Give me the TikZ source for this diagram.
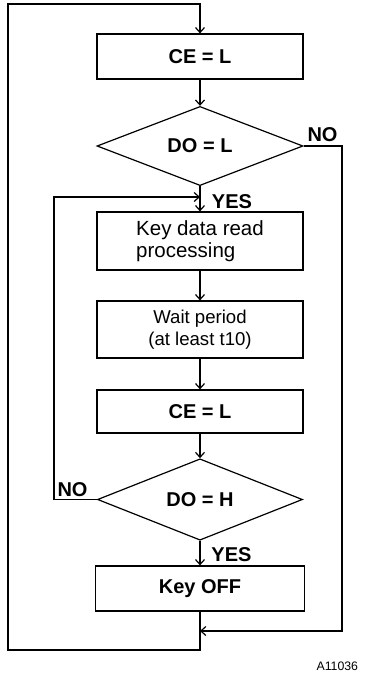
\documentclass[tikz,border=0pt]{standalone}
\usepackage{fontspec}
\setmainfont{Liberation Sans}
\usetikzlibrary{shapes.geometric,arrows.meta}
\begin{document}
\begin{tikzpicture}[x=1pt,y=-1pt,line width=1.2pt,
  box/.style={draw,rectangle,inner sep=0pt},
  dec/.style={draw,diamond,inner sep=0pt},
  lbl/.style={font=\bfseries\fontsize{20}{22}\selectfont},
  flow/.style={-{Straight Barb[length=5pt,width=9pt]}}]
\useasboundingbox (0,0) rectangle (365,683);
\node[box,minimum width=206pt,minimum height=45pt,lbl] (ce1) at (200,56.5) {CE = L};
\node[dec,minimum width=206pt,minimum height=70pt,lbl] (do1) at (200,146) {DO = L};
\node[box,minimum width=206pt,minimum height=58pt,align=left,font=\fontsize{20.5}{22}\selectfont] (key) at (200,241) {Key data read\\processing};
\node[box,minimum width=206pt,minimum height=57pt,align=center,font=\fontsize{18.6}{22.5}\selectfont] (wait) at (200,329.5) {Wait period\\(at least t10)};
\node[box,minimum width=206pt,minimum height=43pt,lbl] (ce2) at (200,411.5) {CE = L};
\node[dec,minimum width=205pt,minimum height=71pt,lbl] (do2) at (200,499.5) {DO = H};
\node[box,minimum width=209pt,minimum height=45pt,lbl] (off) at (200,588.5) {Key OFF};
\node[font=\fontsize{12.3}{14}\selectfont,anchor=east] (id) at (362,666) {A11036};
\node[lbl] (no1) at (322.5,135) {NO};
\node[lbl] (yes1) at (232,201.5) {YES};
\node[lbl] (no2) at (72.5,490) {NO};
\node[lbl] (yes2) at (231.5,555) {YES};
\coordinate (tl) at (8,4);
\coordinate (tr) at (200,4);
\coordinate (bl) at (8,650);
\coordinate (bc) at (200,650);
\coordinate (rj) at (200,631);
\coordinate (rr) at (342,631);
\coordinate (rt) at (342,146);
\coordinate (yj) at (200,197);
\coordinate (il) at (54,197);
\coordinate (ib) at (54,499.5);
\draw[flow] (off.south) -- (bc) -- (bl) -- (tl) -- (tr) -- (ce1.north);
\draw[flow] (ce1) -- (do1);
\draw[flow] (do1.south) -- (key.north);
\draw[flow] (key) -- (wait);
\draw[flow] (wait) -- (ce2);
\draw[flow] (ce2) -- (do2);
\draw[flow] (do2) -- (off);
\draw[flow] (do1.east) -- (rt) -- (rr) -- (rj);
\draw[flow] (do2.west) -- (ib) -- (il) -- (yj);
\end{tikzpicture}
\end{document}
